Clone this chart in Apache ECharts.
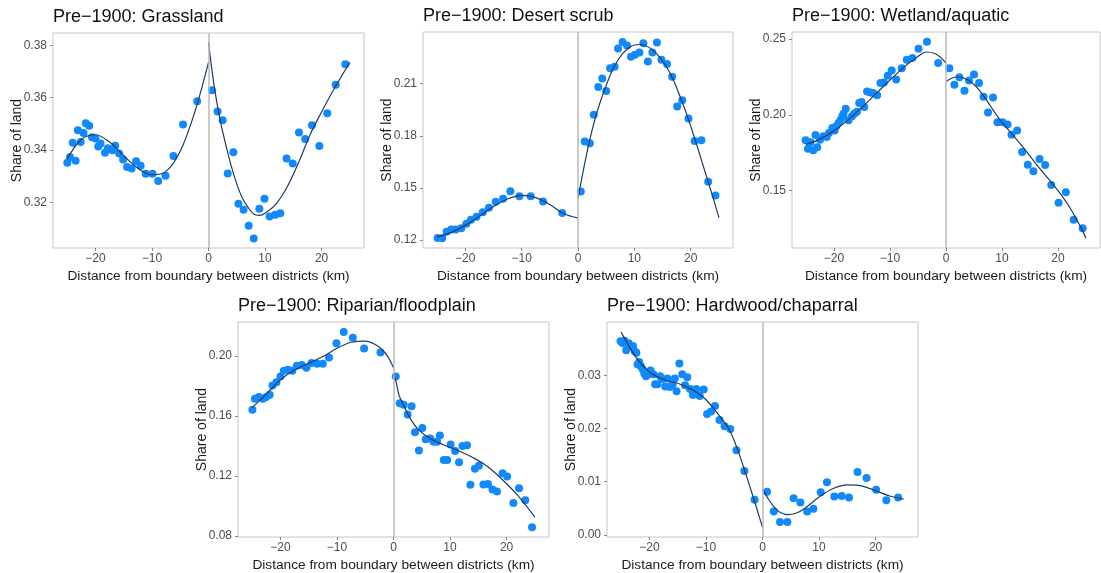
<!DOCTYPE html>
<html><head><meta charset="utf-8">
<script src="https://cdn.jsdelivr.net/npm/echarts@6/dist/echarts.min.js"></script>
<style>html,body{margin:0;padding:0;background:#fff}#c{width:1101px;height:573px}</style>
</head><body><div id="c"></div>
<script>
// ---------- data ----------
const xTicks = [-20, -10, 0, 10, 20];

const grassTitle = 'Pre\u22121900: Grassland';
const grassX = [-24.97,-24.5,-24.0,-23.5,-23.1,-22.6,-22.1,-21.7,-21.1,-20.6,-20.0,-19.5,-19.1,-18.3,-17.8,-17.0,-16.5,-15.8,-15.1,-14.4,-13.6,-12.8,-12.0,-11.1,-9.9,-8.9,-7.6,-6.2,-4.5,-2.0,
  0.6,1.6,2.5,3.4,4.4,5.3,6.2,7.1,8.0,9.0,9.9,10.8,11.8,12.7,13.8,14.9,16.0,17.1,18.3,19.6,21.0,22.5,24.2];
const grassY = [0.3351,0.3373,0.3427,0.3359,0.3475,0.3430,0.3465,0.3502,0.3492,0.3448,0.3444,0.3413,0.3425,0.3389,0.3406,0.3399,0.3416,0.3386,0.3363,0.3335,0.3329,0.3357,0.3339,0.3309,0.3309,0.3281,0.3301,0.3377,0.3497,0.3586,
  0.3628,0.3547,0.3513,0.3310,0.3391,0.3194,0.3171,0.3110,0.3061,0.3175,0.3213,0.3145,0.3152,0.3158,0.3367,0.3348,0.3467,0.3442,0.3494,0.3415,0.3540,0.3649,0.3728];
const grassFitLX = [-25,-22.5,-20,-17.5,-15,-12.5,-10,-7.5,-5,-2.5,0];
const grassFitLY = [0.3365,0.3440,0.3458,0.3430,0.3378,0.3330,0.3305,0.3318,0.3395,0.3540,0.3735];
const grassFitRX = [0,1,2,3,4,5,6,7,8,9,10,12,14,16,18,20,22,25];
const grassFitRY = [0.3810,0.3645,0.3520,0.3425,0.3340,0.3270,0.3215,0.3180,0.3155,0.3150,0.3158,0.3195,0.3262,0.3355,0.3460,0.3545,0.3625,0.3735];
const grassTicks = [0.32,0.34,0.36,0.38];

const desertTitle = 'Pre\u22121900: Desert scrub';
const desertX = [-24.9,-24.1,-23.3,-22.5,-21.7,-20.7,-19.8,-19.0,-18.0,-16.9,-15.8,-14.6,-13.3,-12.0,-10.4,-8.4,-6.2,-2.8,
  0.5,1.2,2.1,2.8,3.6,4.3,5.0,5.7,6.5,7.1,7.9,8.7,9.4,10.1,10.9,11.6,12.4,13.2,14.0,14.8,15.8,16.7,17.6,18.5,19.6,20.7,21.9,23.1,24.4];
const desertY = [0.1213,0.1211,0.1248,0.1261,0.1261,0.1269,0.1295,0.1318,0.1335,0.1360,0.1387,0.1421,0.1438,0.1482,0.1452,0.1452,0.1423,0.1356,
  0.1480,0.1768,0.1757,0.1921,0.2081,0.2129,0.2058,0.2188,0.2197,0.2302,0.2340,0.2319,0.2254,0.2266,0.2279,0.2333,0.2228,0.2279,0.2336,0.2237,0.2213,0.2140,0.1968,0.2005,0.1900,0.1770,0.1774,0.1536,0.1457];
const desertFitLX = [-25,-22.5,-20,-17.5,-15,-12.5,-10,-7.5,-5,-2.5,0];
const desertFitLY = [0.1218,0.1245,0.1285,0.1338,0.1393,0.1437,0.1458,0.1445,0.1405,0.1352,0.1328];
const desertFitRX = [0,1,2,3,4,5,6,7,8,9,10,11,12,13,14,15,16,17,18,19,20,21,22,23,24,25];
const desertFitRY = [0.1440,0.1610,0.1765,0.1895,0.2000,0.2090,0.2170,0.2230,0.2275,0.2305,0.2322,0.2325,0.2318,0.2300,0.2270,0.2230,0.2180,0.2115,0.2035,0.1950,0.1855,0.1755,0.1650,0.1545,0.1440,0.1330];
const desertTicks = [0.12,0.15,0.18,0.21];

const wetTitle = 'Pre\u22121900: Wetland/aquatic';
const wetX = [-25.07,-24.65,-24.2,-23.7,-23.3,-23.0,-22.5,-21.9,-21.3,-20.9,-20.3,-19.9,-19.6,-19.2,-18.8,-18.5,-18.3,-17.9,-17.4,-16.8,-16.4,-15.9,-15.5,-15.1,-14.6,-14.1,-13.5,-13.0,-12.3,-11.7,-11.1,-10.4,-9.7,-8.9,-7.9,-7.0,-6.0,-4.9,-3.4,-1.4,
  0.6,1.5,2.4,3.3,4.1,5.0,5.9,6.7,7.5,8.4,9.2,10.1,11.0,11.7,12.7,13.6,14.6,15.6,16.7,17.7,18.8,20.1,21.4,22.8,24.4];
const wetY = [0.1832,0.1777,0.1819,0.1766,0.1867,0.1786,0.1836,0.1858,0.1854,0.1880,0.1913,0.1896,0.1924,0.1946,0.1968,0.1990,0.2008,0.2041,0.1964,0.1990,0.2008,0.2021,0.2078,0.2085,0.2052,0.2155,0.2148,0.2144,0.2129,0.2210,0.2214,0.2258,0.2293,0.2234,0.2307,0.2364,0.2375,0.2436,0.2482,0.2342,
  0.2307,0.2199,0.2249,0.2159,0.2227,0.2267,0.2210,0.2120,0.2016,0.2115,0.1951,0.1951,0.1937,0.1869,0.1896,0.1755,0.1671,0.1627,0.1709,0.1669,0.1537,0.1419,0.1489,0.1307,0.1252];
const wetFitLX = [-25,-22.5,-20,-17.5,-15,-12.5,-10,-7.5,-5,-3.5,-2,-1,0];
const wetFitLY = [0.1805,0.1840,0.1895,0.1965,0.2050,0.2140,0.2230,0.2315,0.2385,0.2415,0.2405,0.2380,0.2342];
const wetFitRX = [0,1,2,3,4,5,6,7,8,9,10,12,14,16,18,20,22,24,25];
const wetFitRY = [0.2220,0.2242,0.2250,0.2245,0.2228,0.2200,0.2160,0.2110,0.2055,0.2000,0.1950,0.1865,0.1775,0.1680,0.1590,0.1500,0.1395,0.1262,0.1186];
const wetTicks = [0.15,0.20,0.25];

const ripTitle = 'Pre\u22121900: Riparian/floodplain';
const ripX = [-24.95,-24.5,-23.8,-23.1,-22.5,-21.9,-21.4,-20.7,-20.0,-19.4,-18.7,-17.9,-17.1,-16.2,-15.4,-14.5,-13.5,-12.5,-11.4,-10.1,-8.8,-7.2,-5.2,-2.3,
  0.4,1.1,1.8,2.5,3.2,3.8,4.5,5.1,5.7,6.5,7.1,7.7,8.2,8.9,9.5,10.1,10.9,11.6,12.2,13.0,13.6,14.4,15.1,15.9,16.7,17.5,18.3,19.3,20.1,21.2,22.2,23.3,24.5];
const ripY = [0.1641,0.1714,0.1725,0.1714,0.1725,0.1740,0.1802,0.1824,0.1863,0.1901,0.1908,0.1901,0.1934,0.1938,0.1921,0.1952,0.1947,0.1947,0.1989,0.2084,0.2159,0.2121,0.2048,0.2022,
  0.1863,0.1685,0.1674,0.1610,0.1665,0.1491,0.1370,0.1520,0.1445,0.1450,0.1428,0.1428,0.1469,0.1306,0.1306,0.1410,0.1366,0.1291,0.1399,0.1405,0.1141,0.1249,0.1269,0.1144,0.1146,0.1110,0.1097,0.1218,0.1196,0.1020,0.1119,0.1038,0.0859];
const ripFitLX = [-25,-22.5,-20,-17.5,-15,-12.5,-10,-7.5,-5,-3,-2,-1,0];
const ripFitLY = [0.1655,0.1745,0.1840,0.1905,0.1950,0.1995,0.2050,0.2090,0.2098,0.2070,0.2040,0.1995,0.1920];
const ripFitRX = [0,0.5,1,2,3,4.5,6.5,9,11.5,14,16.5,19,22,25];
const ripFitRY = [0.1885,0.1820,0.1735,0.1655,0.1580,0.1505,0.1450,0.1405,0.1368,0.1323,0.1267,0.1185,0.1070,0.0926];
const ripTicks = [0.08,0.12,0.16,0.20];

const hardTitle = 'Pre\u22121900: Hardwood/chaparral';
const hardX = [-25.1,-24.7,-24.4,-24.1,-23.7,-23.3,-22.9,-22.6,-22.3,-22.1,-21.8,-21.5,-21.2,-20.9,-20.6,-20.2,-19.8,-19.3,-19.0,-18.6,-18.1,-17.7,-17.2,-16.8,-16.4,-15.9,-15.5,-15.2,-14.7,-14.2,-13.7,-13.3,-12.8,-12.3,-11.7,-11.1,-10.4,-9.8,-9.1,-8.4,-7.6,-6.7,-5.7,-4.6,-3.2,-1.4,
  0.8,2.0,3.1,4.4,5.5,6.7,7.9,9.0,10.3,11.4,12.7,14.0,15.3,16.8,18.4,20.1,21.9,24.0];
const hardY = [0.0364,0.0360,0.0365,0.0347,0.0360,0.0355,0.0355,0.0345,0.0342,0.0320,0.0325,0.0317,0.0311,0.0303,0.0298,0.0302,0.0309,0.0302,0.0283,0.0283,0.0298,0.0293,0.0279,0.0294,0.0278,0.0282,0.0294,0.0270,0.0322,0.0302,0.0281,0.0296,0.0274,0.0263,0.0274,0.0261,0.0273,0.0227,0.0232,0.0242,0.0216,0.0204,0.0199,0.0159,0.0120,0.0066,
  0.0081,0.0044,0.0024,0.0024,0.0069,0.0061,0.0044,0.0049,0.0080,0.0099,0.0072,0.0073,0.0070,0.0118,0.0107,0.0085,0.0065,0.0070];
const hardFitLX = [-25,-22.5,-20,-17.5,-15,-12.5,-10,-7.5,-6,-5,-4,-3,-2,-1,0];
const hardFitLY = [0.0381,0.0336,0.0306,0.0292,0.0285,0.0273,0.0254,0.0222,0.0200,0.0177,0.0148,0.0116,0.0083,0.0049,0.0014];
const hardFitRX = [0,1,2,3,4.5,6,7.5,10,12.5,15,17.5,20,22.5,25];
const hardFitRY = [0.0086,0.0068,0.0053,0.0043,0.0038,0.0041,0.0050,0.0071,0.0087,0.0094,0.0092,0.0083,0.0073,0.0067];
const hardTicks = [0.00,0.01,0.02,0.03];

// ---------- layout (positions / axis ranges) ----------
const layout = [
  {left: 53,  top: 33,  width: 311, height: 215, yMin: 0.3025, yMax: 0.3847},
  {left: 423, top: 32,  width: 310, height: 216, yMin: 0.1155, yMax: 0.2397},
  {left: 792, top: 32,  width: 308, height: 216, yMin: 0.1121, yMax: 0.2547},
  {left: 238, top: 322, width: 311, height: 216, yMin: 0.0794, yMax: 0.2225},
  {left: 607, top: 322, width: 311, height: 216, yMin: -0.0004, yMax: 0.0400}
];

const panels = [
  {title: grassTitle, x: grassX, y: grassY, lx: grassFitLX, ly: grassFitLY, rx: grassFitRX, ry: grassFitRY, ticks: grassTicks},
  {title: desertTitle, x: desertX, y: desertY, lx: desertFitLX, ly: desertFitLY, rx: desertFitRX, ry: desertFitRY, ticks: desertTicks},
  {title: wetTitle, x: wetX, y: wetY, lx: wetFitLX, ly: wetFitLY, rx: wetFitRX, ry: wetFitRY, ticks: wetTicks},
  {title: ripTitle, x: ripX, y: ripY, lx: ripFitLX, ly: ripFitLY, rx: ripFitRX, ry: ripFitRY, ticks: ripTicks},
  {title: hardTitle, x: hardX, y: hardY, lx: hardFitLX, ly: hardFitLY, rx: hardFitRX, ry: hardFitRY, ticks: hardTicks}
];

const FONT = '"Liberation Sans", Arial, Helvetica, sans-serif';
const zip = (a, b) => a.map((v, i) => [v, b[i]]);
const minusFmt = v => (v < 0 ? '\u2212' + Math.abs(v) : String(v));

const option = {
  animation: false,
  backgroundColor: '#ffffff',
  textStyle: {fontFamily: FONT},
  title: panels.map((p, i) => ({
    text: p.title, left: layout[i].left, top: layout[i].top - 25, padding: 0,
    textStyle: {fontSize: 18, fontWeight: 'normal', color: '#111111', fontFamily: FONT}
  })),
  grid: layout.map(g => ({
    left: g.left, top: g.top, width: g.width, height: g.height,
    show: true, borderColor: '#c6c6c6', borderWidth: 1, backgroundColor: 'transparent'
  })),
  xAxis: layout.map((g, i) => ({
    type: 'value', gridIndex: i, min: -27.5, max: 27.5,
    axisLine: {show: false, onZero: false},
    splitLine: {show: false},
    axisTick: {show: true, customValues: xTicks, length: 3, lineStyle: {color: '#888888'}},
    axisLabel: {customValues: xTicks, formatter: minusFmt, color: '#4d4d4d', fontSize: 12, margin: 5, fontFamily: FONT},
    name: 'Distance from boundary between districts (km)',
    nameLocation: 'middle', nameGap: 21,
    nameTextStyle: {fontSize: 13.7, color: '#1a1a1a', fontFamily: FONT}
  })),
  yAxis: layout.map((g, i) => ({
    type: 'value', gridIndex: i, min: g.yMin, max: g.yMax,
    axisLine: {show: false, onZero: false},
    splitLine: {show: false},
    axisTick: {show: true, customValues: panels[i].ticks, length: 3, lineStyle: {color: '#888888'}},
    axisLabel: {customValues: panels[i].ticks, formatter: v => v.toFixed(2), color: '#4d4d4d', fontSize: 12, margin: 6, fontFamily: FONT},
    name: 'Share of land',
    nameLocation: 'middle', nameGap: 29, nameMoveOverlap: false,
    nameTextStyle: {fontSize: 14, color: '#1a1a1a', fontFamily: FONT}
  })),
  series: []
};

panels.forEach((p, i) => {
  option.series.push({
    type: 'scatter', xAxisIndex: i, yAxisIndex: i, z: 2,
    data: zip(p.x, p.y), symbolSize: 8,
    itemStyle: {color: '#1289fb', opacity: 1},
    markLine: {
      silent: true, symbol: ['none', 'none'], label: {show: false},
      lineStyle: {color: '#b8b8b8', width: 1.5, type: 'solid'},
      data: [{xAxis: 0}]
    }
  });
  [[p.lx, p.ly], [p.rx, p.ry]].forEach(([fx, fy]) => {
    option.series.push({
      type: 'line', xAxisIndex: i, yAxisIndex: i, z: 3,
      data: zip(fx, fy), showSymbol: false, smooth: 0.35,
      lineStyle: {color: '#1f3b63', width: 1.2}
    });
  });
});

const chart = echarts.init(document.getElementById('c'), null, {renderer: 'canvas'});
chart.setOption(option);
</script>
</body></html>
